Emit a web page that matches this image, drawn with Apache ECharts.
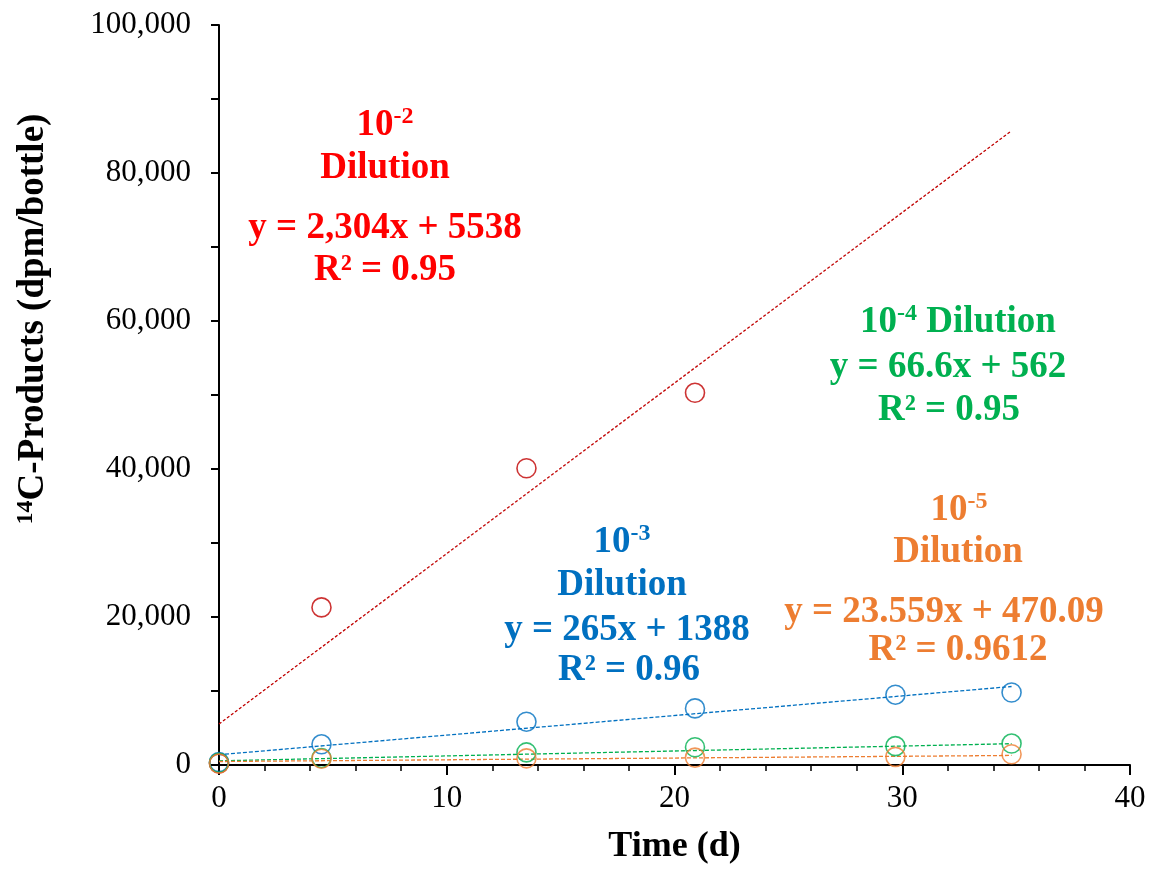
<!DOCTYPE html>
<html><head><meta charset="utf-8">
<script src="https://cdn.jsdelivr.net/npm/echarts@6/dist/echarts.min.js"></script>
<style>html,body{margin:0;padding:0;background:#fff}#c{width:1150px;height:871px}</style>
</head><body><div id="c"></div>
<script>
// Sampling times (d)
const timeDays = [0, 4.5, 13.5, 20.9, 29.7, 34.8];
// 14C-products (dpm/bottle)
const dil2 = [200, 21300, 40100, 50300];          // 10^-2 (first four times)
const dil3 = [400, 2800, 5850, 7650, 9500, 9800];
const dil4 = [300, 950, 1700, 2400, 2550, 2900];
const dil5 = [200, 850, 900, 1000, 1100, 1450];
// Trendline coefficients (slope, intercept) as printed on the chart
const trend2 = [2304, 5538];
const trend3 = [265, 1388];
const trend4 = [66.6, 562];
const trend5 = [23.559, 470.09];
const trendRange = [0, 34.8];
const yTicks = [0, 20000, 40000, 60000, 80000, 100000];
const xTicks = [0, 10, 20, 30, 40];

const C2 = '#ff0000', C2m = '#c00000', C3 = '#0070c0', C4 = '#00b050', C5 = '#ed7d31';
const serif = '"Liberation Serif","Times New Roman",serif';

function pts(vals){ return vals.map((v,i)=>[timeDays[i], v]); }
function trend(c){ return trendRange.map(x=>[x, c[0]*x + c[1]]); }

function scatter(name, vals, color){
  return {name, type:'scatter', data:pts(vals), symbol:'circle', symbolSize:19,
    itemStyle:{color:'rgba(255,255,255,0)', borderColor:color, borderWidth:1.6}, z:3};
}
function tline(c, color, dash){
  return {type:'line', data:trend(c), showSymbol:false, symbol:'none',
    lineStyle:{color, width:1.3, type:dash}, z:2, silent:true};
}

const chart = echarts.init(document.getElementById('c'), null, {renderer:'canvas'});
const fs = 37;
function txt(x, y, text, color, rich){
  return {type:'text', x, y, style:{text, fill:color, font:'bold '+fs+'px '+serif,
    align:'center', verticalAlign:'middle', rich: rich}, z:10};
}
function supRich(color){
  return {n:{fontSize:fs, fontWeight:'bold', fontFamily:serif, color},
          s:{fontSize:24, fontWeight:'bold', fontFamily:serif, color, padding:[0,0,16,0], verticalAlign:'bottom'}};
}

chart.setOption({
  animation:false,
  grid:{left:219, right:20, top:25, bottom:106, containLabel:false},
  xAxis:{type:'value', min:0, max:40, interval:10,
    name:'Time (d)', nameLocation:'middle', nameGap:64,
    nameTextStyle:{fontFamily:serif, fontWeight:'bold', fontSize:36, color:'#000'},
    axisLine:{onZero:false, lineStyle:{color:'#000', width:2}},
    axisTick:{show:true, inside:false, length:10, lineStyle:{color:'#000', width:2}},
    minorTick:{show:true, splitNumber:5, length:6, lineStyle:{color:'#000', width:1.5}},
    splitLine:{show:false},
    axisLabel:{fontFamily:serif, fontSize:31, color:'#000', margin:18,
      formatter:v=>xTicks.includes(v)?String(v):''}},
  yAxis:{type:'value', min:0, max:100000, interval:20000,
    axisLine:{show:true, lineStyle:{color:'#000', width:2}},
    axisTick:{show:true, length:8, lineStyle:{color:'#000', width:2}},
    minorTick:{show:true, splitNumber:2, length:8, lineStyle:{color:'#000', width:2}},
    splitLine:{show:false},
    axisLabel:{fontFamily:serif, fontSize:31, color:'#000', margin:28,
      formatter:v=>yTicks.includes(v)?v.toLocaleString('en-US'):''}},
  series:[
    tline(trend2, C2m, [3,2]),
    tline(trend3, C3, [4,2]),
    tline(trend4, C4, [4,2]),
    tline(trend5, C5, [4,2]),
    scatter('10-2', dil2, C2m),
    scatter('10-3', dil3, C3),
    scatter('10-4', dil4, C4),
    scatter('10-5', dil5, C5)
  ],
  graphic:[
    {type:'text', x:33, y:319, rotation:Math.PI/2, z:10,
     style:{text:'{s|14}{n|C-Products (dpm/bottle)}', align:'center', verticalAlign:'middle',
       rich:{n:{fontFamily:serif, fontWeight:'bold', fontSize:37, color:'#000'},
             s:{fontFamily:serif, fontWeight:'bold', fontSize:24, color:'#000', verticalAlign:'bottom', padding:[0,0,14,0]}}}},
    txt(385, 125, '{n|10}{s|-2}', C2, supRich(C2)),
    txt(385, 168, 'Dilution', C2),
    txt(385, 228, 'y = 2,304x + 5538', C2),
    txt(385, 270, 'R² = 0.95', C2),
    txt(958, 322, '{n|10}{s|-4}{n| Dilution}', C4, supRich(C4)),
    txt(948, 367, 'y = 66.6x + 562', C4),
    txt(949, 410, 'R² = 0.95', C4),
    txt(622, 542, '{n|10}{s|-3}', C3, supRich(C3)),
    txt(622, 585, 'Dilution', C3),
    txt(627, 630, 'y = 265x + 1388', C3),
    txt(629, 670, 'R² = 0.96', C3),
    txt(959, 510, '{n|10}{s|-5}', C5, supRich(C5)),
    txt(958, 552, 'Dilution', C5),
    txt(944, 612, 'y = 23.559x + 470.09', C5),
    txt(958, 650, 'R² = 0.9612', C5)
  ]
});
</script></body></html>
